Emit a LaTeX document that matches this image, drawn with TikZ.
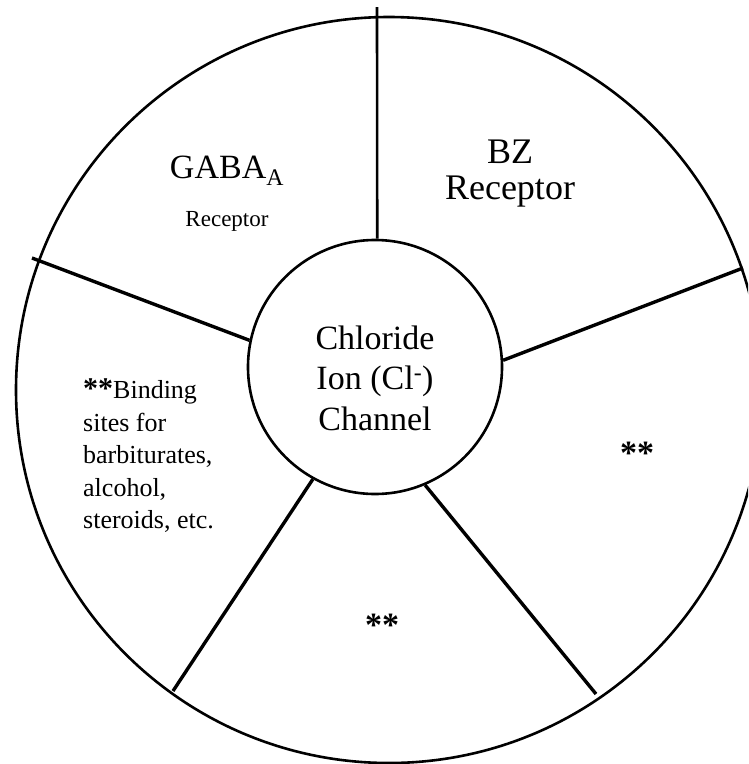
\documentclass[tikz,border=0pt]{standalone}
\usepackage{fontspec}
\setmainfont{Liberation Serif}

\begin{document}
\begin{tikzpicture}[
        x=1pt, y=-1pt,
        ring/.style      = {circle, draw, line width=2.6pt, inner sep=0pt},
        spoke/.style     = {draw, line width=3.4pt},
        bigtext/.style   = {font=\fontsize{34}{40.5}\selectfont, align=center, inner sep=0pt},
        bztext/.style    = {font=\fontsize{36}{36}\selectfont, align=center, inner sep=0pt},
        smalltext/.style = {font=\fontsize{23}{28}\selectfont, inner sep=0pt},
        sitetext/.style  = {font=\fontsize{26}{32.5}\selectfont, align=left, inner sep=0pt},
        stars/.style     = {font=\fontsize{34}{40}\selectfont\bfseries, inner sep=0pt}
    ]
        \clip (0,0) rectangle (748,764);

        % circles
        \node [ring, minimum size=746pt] (outer) at (389,390) {};
        \node [ring, minimum size=254pt] (chan)  at (375,367) {};
        \node [bigtext] (chantxt) at ([yshift=-11pt]chan.center)
              {Chloride\\Ion (Cl\textsuperscript{-})\\Channel};

        % free ends of the spokes
        \coordinate (topend) at (377,7);
        \coordinate (ulend)  at (32,258);
        \coordinate (urend)  at (743,268);
        \coordinate (llend)  at (173,691);
        \coordinate (lrend)  at (596,694);

        % spokes
        \path [spoke, line width=2.6pt] (chan.89) -- (topend);
        \path [spoke] (chan.168) -- (ulend);
        \path [spoke] (chan.3)   -- (urend);
        \path [spoke] (chan.241) -- (llend);
        \path [spoke] (chan.293) -- (lrend);

        % labels
        \node [bigtext, anchor=base] (gaba) at (227,178) {GABA\textsubscript{A}};
        \node [smalltext, anchor=base] (gabarec) at ([yshift=-48pt]gaba.base) {Receptor};
        \node [bztext] (bz) at (510,174) {BZ\\Receptor};
        \node [sitetext, anchor=north west] (sites) at (83,379)
              {{\fontsize{30}{32.5}\selectfont\bfseries **}Binding\\sites for\\barbiturates,\\alcohol,\\steroids, etc.};
        \node [stars] (rstars) at (637,453) {**};
        \node [stars] (bstars) at (382,625) {**};
    \end{tikzpicture}
\end{document}
